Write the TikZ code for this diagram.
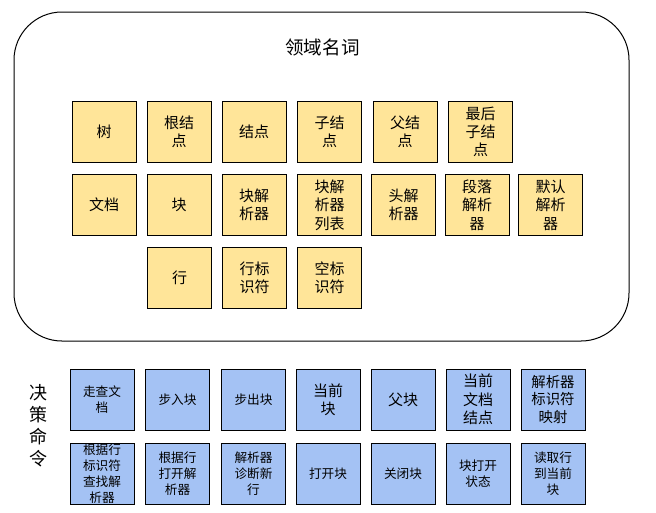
\documentclass[tikz,border=0pt]{standalone}
\usepackage{fontspec}
\setmainfont{Noto Sans CJK SC}

\tikzset{every picture/.style={line width=0.75pt}}
\tikzset{
	noun/.style={draw, fill={rgb, 255:red, 255; green, 229; blue, 153 }, fill opacity=1, text opacity=1,
		minimum width=48pt, minimum height=45.75pt, inner sep=0pt, align=center,
		font=\fontsize{11.25}{13.75}\selectfont},
	cmd/.style={draw, fill={rgb, 255:red, 164; green, 194; blue, 244 }, fill opacity=1, text opacity=1,
		minimum width=48pt, minimum height=45.75pt, inner sep=0pt, align=center,
		font=\fontsize{9.5}{12}\selectfont},
	cmdbig/.style={cmd, font=\fontsize{11.25}{13.75}\selectfont}}

\begin{document}
\begin{tikzpicture}[x=0.75pt,y=0.75pt,yscale=-1,xscale=1]
	\useasboundingbox (0,0) rectangle (656,512);

	%Shape: Rounded Rect [id:nounsframe] 
	\draw [rounded corners=36pt] (14,12) rectangle (629,341) ;

	% Text Node
	\draw (322.5,47.5) node [font=\fontsize{13.9}{16}\selectfont] (nounstitle) {领域名词};
	% Text Node
	\draw (38,426) node [align=center, font=\fontsize{13.5}{16.5}\selectfont] (cmdstitle) {决\\策\\命\\令};

	% Nouns, row 1
	\draw (104,132) node [noun] (tree) {树};
	\draw (179,132) node [noun] (rootnode) {根结\\点};
	\draw (254,132) node [noun] (node) {结点};
	\draw (329.5,132) node [noun] (childnode) {子结\\点};
	\draw (405,132) node [noun] (parentnode) {父结\\点};
	\draw (480.5,132) node [noun] (lastchild) {最后\\子结\\点};
	% Nouns, row 2
	\draw (104,205) node [noun] (document) {文档};
	\draw (179,205) node [noun] (block) {块};
	\draw (254,205) node [noun] (blockparser) {块解\\析器};
	\draw (329.5,205) node [noun] (parserlist) {块解\\析器\\列表};
	\draw (403.5,205) node [noun] (headparser) {头解\\析器};
	\draw (477,205) node [noun] (paraparser) {段落\\解析\\器};
	\draw (550.5,205) node [noun] (defaultparser) {默认\\解析\\器};
	% Nouns, row 3
	\draw (179.5,277.5) node [noun] (line) {行};
	\draw (254.5,277.5) node [noun] (lineid) {行标\\识符};
	\draw (329.5,277.5) node [noun] (emptyid) {空标\\识符};

	% Commands, row 1
	\draw (102,399.5) node [cmd] (walkdoc) {走查文\\档};
	\draw (177.5,399.5) node [cmd] (stepin) {步入块};
	\draw (253.5,399.5) node [cmd] (stepout) {步出块};
	\draw (328,399.5) node [cmdbig] (curblock) {当前\\块};
	\draw (403,399.5) node [cmdbig] (parentblock) {父块};
	\draw (478,399.5) node [cmdbig] (curdocnode) {当前\\文档\\结点};
	\draw (553,399.5) node [cmd, font=\fontsize{10.8}{13}\selectfont] (parsermap) {解析器\\标识符\\映射};
	% Commands, row 2
	\draw (102,473.5) node [cmd] (findparser) {根据行\\标识符\\查找解\\析器};
	\draw (177.5,473.5) node [cmd] (openparser) {根据行\\打开解\\析器};
	\draw (253.5,473.5) node [cmd] (diagline) {解析器\\诊断新\\行};
	\draw (328,473.5) node [cmd] (openblock) {打开块};
	\draw (403,473.5) node [cmd] (closeblock) {关闭块};
	\draw (478,473.5) node [cmd] (openstate) {块打开\\状态};
	\draw (553,473.5) node [cmd] (readline) {读取行\\到当前\\块};

\end{tikzpicture}
\end{document}
